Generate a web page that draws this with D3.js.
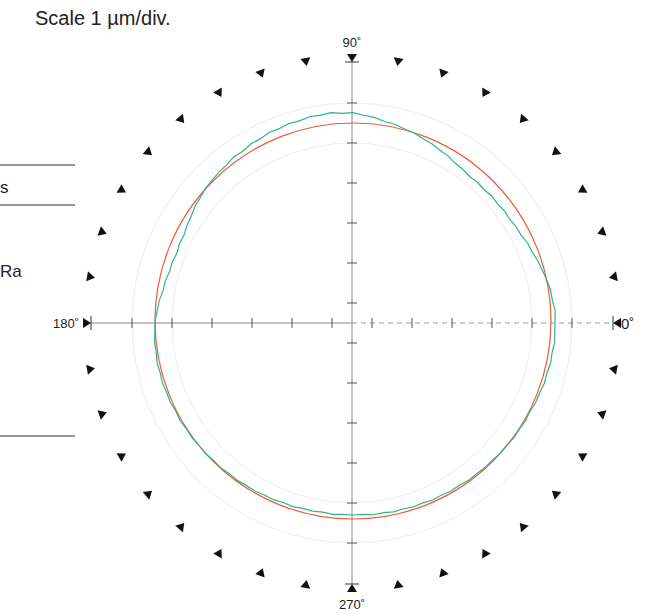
<!DOCTYPE html>
<html>
<head>
<meta charset="utf-8">
<script src="https://cdn.jsdelivr.net/npm/d3@7/dist/d3.min.js"></script>
<style>
  body { margin: 0; background: #fff; }
  svg { display: block; }
  text { font-family: "Liberation Sans", Arial, sans-serif; fill: #222; }
</style>
</head>
<body>
<svg id="chart"></svg>
<script>
const scaleTitle = 'Scale 1 µm/div.';
const axisAngles = [0, 90, 180, 270];
const axisLabels = ['0˚', '90˚', '180˚', '270˚'];
const markerAngles = [10, 20, 30, 40, 50, 60, 70, 80, 100, 110, 120, 130, 140, 150, 160, 170,
  190, 200, 210, 220, 230, 240, 250, 260, 280, 290, 300, 310, 320, 330, 340, 350];
const tickDivs = [0.5, 1.5, 2.5, 3.5, 4.5, 5.5];
const axisEndDiv = 6.525;
const guideDivs = [4.5, 5.5];
const lscCenter = [0.025, 0.05];
const lscRadius = 4.95;
const profileAngles = [0, 3, 6, 9, 12, 15, 18, 21, 24, 27, 30, 33, 36, 39, 42, 45, 48, 51, 54, 57,
  60, 63, 66, 69, 72, 75, 78, 81, 84, 87, 90, 93, 96, 99, 102, 105, 108, 111, 114, 117,
  120, 123, 126, 129, 132, 135, 138, 141, 144, 147, 150, 153, 156, 159, 162, 165, 168, 171, 174, 177,
  180, 183, 186, 189, 192, 195, 198, 201, 204, 207, 210, 213, 216, 219, 222, 225, 228, 231, 234, 237,
  240, 243, 246, 249, 252, 255, 258, 261, 264, 267, 270, 273, 276, 279, 282, 285, 288, 291, 294, 297,
  300, 303, 306, 309, 312, 315, 318, 321, 324, 327, 330, 333, 336, 339, 342, 345, 348, 351, 354, 357];
// deviation from the least squares circle, µm
const profileDev = [0.10, 0.11, 0.06, 0.05, 0.00, -0.05, -0.09, -0.15, -0.17, -0.23,
  -0.24, -0.28, -0.27, -0.30, -0.28, -0.31, -0.29, -0.31, -0.27, -0.25,
  -0.19, -0.16, -0.10, -0.07, -0.01, 0.02, 0.08, 0.10, 0.17, 0.20,
  0.26, 0.25, 0.29, 0.26, 0.27, 0.23, 0.24, 0.20, 0.21, 0.16,
  0.16, 0.11, 0.12, 0.07, 0.06, 0.03, 0.01, -0.04, -0.07, -0.13,
  -0.16, -0.21, -0.20, -0.23, -0.20, -0.20, -0.15, -0.14, -0.08, -0.05,
  0.00, 0.01, 0.04, 0.03, 0.06, 0.04, 0.06, 0.04, 0.05, 0.02,
  0.04, 0.01, 0.02, 0.00, 0.01, -0.02, -0.01, -0.04, -0.03, -0.05,
  -0.04, -0.07, -0.06, -0.09, -0.07, -0.10, -0.09, -0.11, -0.09, -0.11,
  -0.10, -0.11, -0.08, -0.10, -0.07, -0.09, -0.06, -0.08, -0.05, -0.07,
  -0.04, -0.06, -0.03, -0.04, -0.02, -0.03, 0.00, -0.01, 0.02, 0.01,
  0.03, 0.02, 0.05, 0.05, 0.08, 0.07, 0.10, 0.09, 0.12, 0.10];
const tableRows = ['s', 'Ra'];

const width = 656, height = 615;
const cx = 352, cy = 323;

const svg = d3.select('#chart').attr('width', width).attr('height', height);

const r = d3.scaleLinear().domain([0, axisEndDiv]).range([0, 261]);
const rad = (deg) => deg * Math.PI / 180;
const polar = (deg, div) => [cx + r(div) * Math.cos(rad(deg)), cy - r(div) * Math.sin(rad(deg))];

svg.append('text')
  .attr('x', 35).attr('y', 25)
  .attr('font-size', '20px')
  .attr('fill', '#333')
  .text(scaleTitle);

// remains of the table on the left
const tableG = svg.append('g');
tableG.selectAll('line')
  .data([165, 205, 436])
  .enter()
  .append('line')
  .attr('x1', 0).attr('x2', 75)
  .attr('y1', (y) => y).attr('y2', (y) => y)
  .attr('stroke', '#333')
  .attr('stroke-width', 1);
tableG.selectAll('text')
  .data(tableRows)
  .enter()
  .append('text')
  .attr('x', 0)
  .attr('y', (d, i) => [193, 277][i])
  .attr('font-size', '17px')
  .text((d) => d);

const guideG = svg.append('g');
guideG.selectAll('circle')
  .data(guideDivs)
  .enter()
  .append('circle')
  .attr('cx', cx).attr('cy', cy)
  .attr('r', (d) => r(d))
  .attr('fill', 'none')
  .attr('stroke', '#ececec')
  .attr('stroke-width', 1);

const axisG = svg.append('g');
axisG.append('line')
  .attr('x1', polar(180, axisEndDiv)[0]).attr('x2', cx)
  .attr('y1', cy).attr('y2', cy)
  .attr('stroke', '#888');
axisG.append('line')
  .attr('x1', cx).attr('x2', polar(0, axisEndDiv)[0])
  .attr('y1', cy).attr('y2', cy)
  .attr('stroke', '#999')
  .attr('stroke-dasharray', '5,4');
axisG.append('line')
  .attr('x1', cx).attr('x2', cx)
  .attr('y1', polar(90, axisEndDiv)[1]).attr('y2', polar(270, axisEndDiv)[1])
  .attr('stroke', '#888');

const tickData = axisAngles.flatMap((a) => tickDivs.map((t) => ({ a, t })));
axisG.selectAll('.tick')
  .data(tickData)
  .enter()
  .append('line')
  .attr('class', 'tick')
  .attr('transform', (d) => `translate(${polar(d.a, d.t)}) rotate(${-d.a})`)
  .attr('x1', 0).attr('x2', 0)
  .attr('y1', -5).attr('y2', 5)
  .attr('stroke', '#555');

axisG.selectAll('.end')
  .data(axisAngles)
  .enter()
  .append('line')
  .attr('class', 'end')
  .attr('transform', (d) => `translate(${polar(d, axisEndDiv)}) rotate(${-d})`)
  .attr('x1', 0).attr('x2', 0)
  .attr('y1', -7).attr('y2', 7)
  .attr('stroke', '#333');

const tri = 'M0,0 L8,-5 L8,5 Z';
svg.append('g').selectAll('path')
  .data(axisAngles.concat(markerAngles))
  .enter()
  .append('path')
  .attr('transform', (d) => `translate(${polar(d, axisEndDiv)}) rotate(${-d})`)
  .attr('d', tri)
  .attr('fill', '#111');

const labelG = svg.append('g').attr('font-size', '13px');
labelG.append('text').attr('x', cx).attr('y', 47).attr('text-anchor', 'middle').text(axisLabels[1]);
labelG.append('text').attr('x', cx).attr('y', 609).attr('text-anchor', 'middle').text(axisLabels[3]);
labelG.append('text').attr('x', 79).attr('y', 328).attr('text-anchor', 'end').text(axisLabels[2]);
labelG.append('text').attr('x', 621).attr('y', 329).attr('font-size', '15px').text(axisLabels[0]);

const lsc = [cx + r(lscCenter[0]), cy - r(lscCenter[1])];
svg.append('circle')
  .attr('cx', lsc[0]).attr('cy', lsc[1])
  .attr('r', r(lscRadius))
  .attr('fill', 'none')
  .attr('stroke', '#f0583a')
  .attr('stroke-width', 1.2);

const profile = profileAngles.map((a, i) => {
  const rr = r(lscRadius + profileDev[i]);
  return [lsc[0] + rr * Math.cos(rad(a)), lsc[1] - rr * Math.sin(rad(a))];
});
svg.append('path')
  .datum(profile)
  .attr('d', d3.line().curve(d3.curveLinearClosed))
  .attr('fill', 'none')
  .attr('stroke', '#2cb58c')
  .attr('stroke-width', 1.2);
</script>
</body>
</html>
